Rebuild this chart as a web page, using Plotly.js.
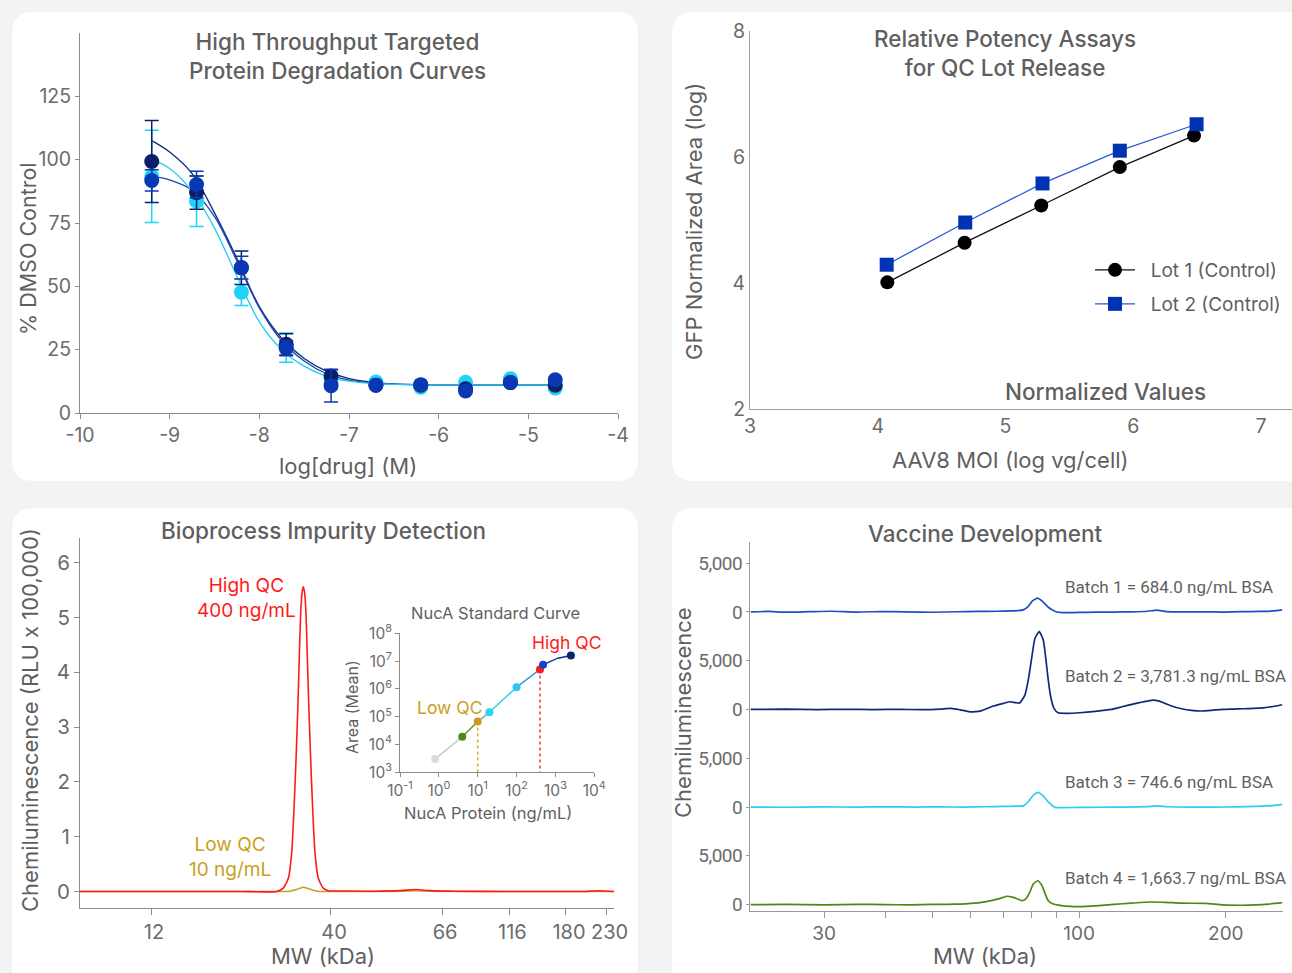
<!DOCTYPE html>
<html><head><meta charset="utf-8">
<script src="https://cdn.plot.ly/plotly-3.0.1.min.js"></script>
<style>
html,body{margin:0;padding:0;background:#f2f4f4;overflow:hidden}
#chart{width:1292px;height:973px}
.y5tick text,.y6tick text,.y7tick text,.y8tick text{letter-spacing:-0.5px}
</style>
</head><body><div id="chart"></div>
<script>
// ================= DATA =================
// Panel 1 - High Throughput Targeted Protein Degradation Curves
const doseLog = [-9.2,-8.7,-8.2,-7.7,-7.2,-6.7,-6.2,-5.7,-5.2,-4.7];
const navyPct = [99.3,87,57.3,27.1,14.6,11,11,9.6,12,11];
const navyErr = [16.2,6.6,6.6,4.2,2.5,0,0,0,0,0];
const bluePct = [91.8,90.2,57.4,25.6,10.8,11,11.2,8.7,12,13.1];
const blueErr = [4.2,5.2,4.5,3,6.5,0,0,0,0,0];
const cyanPct = [93.4,83.6,47.7,25.8,13.2,12.2,10.2,12.1,13.5,9.9];
const cyanErr = [18.2,10,5.3,5.8,0,0,0,0,0,0];
const fitLog  = [-9.2,-9.0,-8.75,-8.5,-8.25,-8.0,-7.75,-7.5,-7.25,-7.0,-6.75,-6.5,-6.0,-5.5,-5.0,-4.7];
const navyFit = [107.5,103,94.5,79,61,42,29.5,21.5,16.5,13.6,12.2,11.5,11.1,11,11,11];
const blueFit = [93.5,92,88,77.5,60,41.5,28.5,20.5,15.5,13,11.9,11.4,11.1,11,11,11];
const cyanFit = [100,96.5,87.5,73,54,36,25,18.5,14.5,12.6,11.7,11.3,11.1,11,11,11];
const doseTicks = [-10,-9,-8,-7,-6,-5,-4];
const doseTickText = ['-10','-9','-8','-7','-6','-5','-4'];
const pctTicks = [0,25,50,75,100,125];

// Panel 2 - Relative Potency Assays
const moiLot1 = [4.075,4.68,5.28,5.895,6.476];
const gfpLot1 = [4.01,4.64,5.23,5.84,6.34];
const moiLot2 = [4.07,4.685,5.29,5.895,6.496];
const gfpLot2 = [4.29,4.96,5.58,6.10,6.52];

// Panel 3 - Bioprocess Impurity Detection (x = migration position, labelled by MW)
const mwTickPos  = [13.3,47.0,67.8,80.4,91.0,98.6];
const mwTickText = ['12','40','66','116','180','230'];
const highPos = [0,10,20,30,36.8,38.07,39.01,39.64,40.07,40.45,40.82,41.07,41.33,41.57,41.82,42.08,42.32,42.57,42.83,43.2,43.58,44.01,44.63,45.56,46.5,50,55,60,62.9,65.5,70,80,90,94.5,96.8,99,100];
const highVal = [0,0,0,0,0,0.06,0.24,0.70,1.49,2.40,3.44,4.29,5.08,5.44,5.56,5.44,5.08,4.29,3.44,2.40,1.49,0.70,0.24,0.06,0.015,0.01,0.005,0.015,0.035,0.015,0.005,0,0,0,0.012,0.005,0];
const lowPos = [0,20,38.0,39.5,40.5,41.2,41.82,42.4,43.1,44.0,45.0,50,60,62.9,66,80,100];
const lowVal = [0,0,0,0.01,0.035,0.06,0.075,0.065,0.04,0.012,0,0,0.005,0.015,0.004,0,0];

// Inset - NucA Standard Curve
const nucaConc   = [0.8,4,10,20,100,400,480,2500];
const nucaArea   = [3000,19000,67000,144000,1150000,5000000,7400000,16000000];
const nucaColors = ['#dadada','#4e8a1a','#c99a1e','#2fd2f4','#29c9f3','#ff1a1a','#1444c4','#0b2570'];
const curveConc  = [0.8,4,10,20,100,400,480,1080,2500];
const curveArea  = [3000,19000,67000,144000,1150000,5000000,7400000,12300000,16000000];
const curveColors= ['#bccbae','#5f952c','#72b49c','#3ccbf0','#2c9de8','#2262d2','#1a45b0','#13307e'];
const decadeX = [0.1,1,10,100,1000,10000];
const decadeXText = ['10<sup>-1</sup>','10<sup>0</sup>','10<sup>1</sup>','10<sup>2</sup>','10<sup>3</sup>','10<sup>4</sup>'];
const decadeY = [1e3,1e4,1e5,1e6,1e7,1e8];
const decadeYText = ['10<sup>3</sup>','10<sup>4</sup>','10<sup>5</sup>','10<sup>6</sup>','10<sup>7</sup>','10<sup>8</sup>'];

// Panel 4 - Vaccine Development
const b1Mw  = [21.2,23,25,28,31,35,39,44,50,56,62,68,72,75,76.8,78.65,80.3,82.2,84.2,86.45,89.2,91.3,95,100,108,118,128,138,144.4,151,165,180,198,215,235,250,261];
const b1Sig = [0,40,-30,20,60,-20,30,0,-40,10,40,60,90,120,200,560,1150,1400,1050,470,60,-60,-80,-60,-30,-20,0,60,180,20,-10,0,-20,20,40,90,200];
const b2Mw  = [21.2,25,29,33,38,43,48,52,54.6,57,59.7,62.6,66.7,69.9,72.1,74,75.5,77.4,78.65,79.93,81.19,82.85,84.43,85.51,86.45,87.45,88.81,90.6,94.3,100.4,108,116.5,122,128.3,135,141.5,146,150,156,162.2,170,178.6,188,197,207,217,228,239,250,261];
const b2Sig = [0,30,-20,20,-10,10,-20,40,110,-40,-240,-170,350,620,790,700,650,1470,3010,5240,7290,7970,7120,5070,3010,1300,110,-340,-400,-340,-200,0,250,520,760,960,850,620,300,70,-100,-160,-80,10,40,70,100,170,300,480];
const b3Mw  = [21.2,25,30,35,40,46,52,58,64,70,74,76.82,78.65,80.54,82.45,84.43,86.45,89.24,92,100,110,125,138,144.4,152,170,190,210,230,250,261];
const b3Sig = [0,-20,20,-10,30,0,20,-10,30,60,90,120,540,1230,1500,1130,540,-30,-60,-40,-20,0,50,110,30,0,-10,20,60,150,280];
const b4Mw  = [21.2,25,30,35,40,45,50,54,57,60,62.6,66.7,69.9,71,73.3,75,76.2,77.2,78.07,79.29,80.54,82.23,83.79,85.12,86.45,88.52,91.33,96,100,108,118,128,140,150,162,181.6,197,215,230,245,261];
const b4Sig = [0,20,-20,30,0,-20,20,30,60,120,200,470,750,860,740,560,420,480,700,1320,2110,2450,2010,1160,400,60,-70,-180,-200,-120,30,150,270,240,150,130,-20,-60,-30,60,200];
const vacTicks = [30,40,50,60,70,80,90,100,200];
const vacTickText = ['30','','','','','','','100','200'];
const batchLabels = ['Batch 1 = 684.0 ng/mL BSA','Batch 2 = 3,781.3 ng/mL BSA','Batch 3 = 746.6 ng/mL BSA','Batch 4 = 1,663.7 ng/mL BSA'];

// ================= HELPERS =================
const W = 1292, H = 973;
const px = v => v / W;
const py = v => 1 - v / H;
const TXT = '#5f5f5f', TICK = '#6b6b6b', LINE = '#8c8c8c';
const FONT = 'Inter, Roboto, "Open Sans", sans-serif';
const NB = '\u00a0\u00a0';

function rr(l, t, r, b, rad) {
  const X = v => px(v), Y = v => py(v);
  return `M${X(l+rad)},${Y(t)} L${X(r-rad)},${Y(t)} Q${X(r)},${Y(t)} ${X(r)},${Y(t+rad)} L${X(r)},${Y(b-rad)} Q${X(r)},${Y(b)} ${X(r-rad)},${Y(b)} L${X(l+rad)},${Y(b)} Q${X(l)},${Y(b)} ${X(l)},${Y(b-rad)} L${X(l)},${Y(t+rad)} Q${X(l)},${Y(t)} ${X(l+rad)},${Y(t)} Z`;
}
function ann(text, x, y, o) {
  return Object.assign({text, x: px(x), y: py(y), xref:'paper', yref:'paper', showarrow:false,
    xanchor:'center', yanchor:'middle', font:{size:22, color:TXT, family:FONT}}, o || {});
}
function baseAxis(o) {
  return Object.assign({showline:true, linecolor:LINE, linewidth:1, showgrid:false, zeroline:false,
    ticks:'outside', ticklen:5, tickcolor:LINE, tickangle:0, tickfont:{size:19.5, color:TICK, family:FONT}, fixedrange:true}, o);
}
const titleFont = {size:22.5, color:TXT, family:FONT, weight:500};

const traces = [];
// ---- Panel 1 curves
[[navyFit,'#0d2a7e'],[blueFit,'#1c43b8'],[cyanFit,'#1fcdf4']].forEach(([y,c]) => {
  traces.push({x: fitLog, y, xaxis:'x', yaxis:'y', mode:'lines', line:{color:c, width:1.3, shape:'spline'}, showlegend:false, hoverinfo:'skip'});
});
[[cyanPct,cyanErr,'#1fd3f6'],[navyPct,navyErr,'#0a1f66'],[bluePct,blueErr,'#0a38b4']].forEach(([y,e,c]) => {
  traces.push({x: doseLog, y, xaxis:'x', yaxis:'y', mode:'markers', marker:{color:c, size:15},
    error_y:{type:'data', array:e, visible:true, color:c, thickness:1.5, width:7}, showlegend:false, hoverinfo:'skip'});
});
// ---- Panel 2
traces.push({x: moiLot1, y: gfpLot1, xaxis:'x2', yaxis:'y2', mode:'lines+markers', name:NB+'Lot 1 (Control)',
  line:{color:'#111', width:1.3}, marker:{color:'#000', size:14, symbol:'circle'}, legend:'legend', hoverinfo:'skip'});
traces.push({x: moiLot2, y: gfpLot2, xaxis:'x2', yaxis:'y2', mode:'lines+markers', name:NB+'Lot 2 (Control)',
  line:{color:'#2a5ad6', width:1.3}, marker:{color:'#0033b3', size:14, symbol:'square'}, legend:'legend2', hoverinfo:'skip'});
// ---- Panel 3
traces.push({x: lowPos, y: lowVal, xaxis:'x3', yaxis:'y3', mode:'lines', line:{color:'#c9a01e', width:1.5, shape:'spline', smoothing:0.6}, showlegend:false, hoverinfo:'skip'});
traces.push({x: highPos, y: highVal, xaxis:'x3', yaxis:'y3', mode:'lines', line:{color:'#ff1a1a', width:1.6, shape:'spline', smoothing:0.6}, showlegend:false, hoverinfo:'skip'});
// ---- Inset
for (let i = 0; i < curveConc.length - 1; i++) {
  traces.push({x: [curveConc[i], curveConc[i+1]], y: [curveArea[i], curveArea[i+1]], xaxis:'x4', yaxis:'y4', mode:'lines',
    line:{color: curveColors[i], width:1.5}, showlegend:false, hoverinfo:'skip'});
}
traces.push({x: [nucaConc[2], nucaConc[2]], y: [nucaArea[2], decadeY[0]], xaxis:'x4', yaxis:'y4', mode:'lines',
  line:{color:'#d9a52a', width:1.5, dash:'dot'}, showlegend:false, hoverinfo:'skip'});
traces.push({x: [nucaConc[5], nucaConc[5]], y: [nucaArea[5], decadeY[0]], xaxis:'x4', yaxis:'y4', mode:'lines',
  line:{color:'#ff3030', width:1.5, dash:'dot'}, showlegend:false, hoverinfo:'skip'});
traces.push({x: nucaConc, y: nucaArea, xaxis:'x4', yaxis:'y4', mode:'markers', marker:{color:nucaColors, size:8}, showlegend:false, hoverinfo:'skip'});
// ---- Panel 4
[[b1Mw,b1Sig,'#1f4fc2','y5'],[b2Mw,b2Sig,'#0f2a7c','y6'],[b3Mw,b3Sig,'#2ccdf4','y7'],[b4Mw,b4Sig,'#4a8a14','y8']].forEach(([x,y,c,ya]) => {
  traces.push({x, y, xaxis:'x5', yaxis:ya, mode:'lines', line:{color:c, width:1.7, shape:'spline', smoothing:0.5}, showlegend:false, hoverinfo:'skip'});
});

// ================= LAYOUT =================
const vacDom = [[617.7,541.7],[715.3,617.7],[812.9,715.3],[910.5,812.9]];
const vacTop = [7190,9400,9400,9400];
const legendBase = {xanchor:'left', yanchor:'middle', font:{size:19,color:TXT,family:FONT}, bgcolor:'rgba(0,0,0,0)', itemwidth:40, borderwidth:0};
const layout = {
  width: W, height: H, margin:{l:0,r:0,t:0,b:0, autoexpand:false},
  paper_bgcolor:'#f2f4f4', plot_bgcolor:'rgba(0,0,0,0)',
  font:{family:FONT, color:TICK},
  shapes: [
    {type:'path', xref:'paper', yref:'paper', path: rr(12,12,638,481,22), fillcolor:'#ffffff', line:{width:0}, layer:'below'},
    {type:'path', xref:'paper', yref:'paper', path: rr(672,12,1330,481,22), fillcolor:'#ffffff', line:{width:0}, layer:'below'},
    {type:'path', xref:'paper', yref:'paper', path: rr(12,508,638,1010,22), fillcolor:'#ffffff', line:{width:0}, layer:'below'},
    {type:'path', xref:'paper', yref:'paper', path: rr(672,508,1330,1010,22), fillcolor:'#ffffff', line:{width:0}, layer:'below'}
  ],
  xaxis: baseAxis({domain:[px(80), px(618)], range:[-10,-4], tickmode:'array', tickvals:doseTicks, ticktext:doseTickText, anchor:'y'}),
  yaxis: baseAxis({domain:[py(413), py(33)], range:[0,150], tickmode:'array', tickvals:pctTicks, anchor:'x', ticklen:4}),
  xaxis2: baseAxis({domain:[px(750), 1], range:[3,7.243], dtick:1, ticks:'', anchor:'y2', linecolor:'#a0a0a0'}),
  yaxis2: baseAxis({domain:[py(409), py(31)], range:[2,8], dtick:2, ticks:'', anchor:'x2', linecolor:'#a0a0a0'}),
  xaxis3: baseAxis({domain:[px(80), px(614)], range:[0,100], tickmode:'array', tickvals:mwTickPos, ticktext:mwTickText, anchor:'y3', ticklen:6, ticklabelshift:3, tickfont:{size:20,color:TICK,family:FONT}}),
  yaxis3: baseAxis({domain:[py(907.7), py(537.7)], range:[-0.296,6.456], dtick:1, anchor:'x3', tickfont:{size:20.5,color:TICK,family:FONT}}),
  xaxis4: baseAxis({type:'log', domain:[px(400), px(594.3)], range:[-1,4], tickmode:'array', tickvals:decadeX, ticktext:decadeXText, anchor:'y4', ticklen:4, tickfont:{size:15.5,color:TICK,family:FONT}}),
  yaxis4: baseAxis({type:'log', domain:[py(772.3), py(633.3)], range:[3,8], tickmode:'array', tickvals:decadeY, ticktext:decadeYText, anchor:'x4', ticklen:4, tickfont:{size:15.5,color:TICK,family:FONT}}),
  xaxis5: baseAxis({type:'log', domain:[px(750), px(1283)], range:[Math.log10(21.13), Math.log10(262)], tickmode:'array', tickvals:vacTicks, ticktext:vacTickText, anchor:'y8', ticklen:6, linecolor:'#999', tickcolor:'#999', tickfont:{size:19,color:TICK,family:FONT}}),
  legend:  Object.assign({x:px(1090), y:py(270)}, legendBase),
  legend2: Object.assign({x:px(1090), y:py(304)}, legendBase),
  annotations: [
    ann('High Throughput Targeted<br>Protein Degradation Curves', 337, 56, {font:titleFont}),
    ann('log[drug] (M)', 348, 466),
    ann('% DMSO Control', 28, 249, {textangle:-90, font:{size:21.5,color:TXT,family:FONT}}),
    ann('Relative Potency Assays<br>for QC Lot Release', 1005, 53, {font:titleFont}),
    ann('Normalized Values', 1105, 392, {font:titleFont}),
    ann('GFP Normalized Area (log)', 694, 222, {textangle:-90}),
    ann('AAV8 MOI (log vg/cell)', 1010, 460),
    ann('Bioprocess Impurity Detection', 323, 530, {font:titleFont}),
    ann('High QC<br>400 ng/mL', 247, 598, {font:{size:19,color:'#ff1a1a',family:FONT}}),
    ann('Low QC<br>10 ng/mL', 230, 857, {font:{size:19,color:'#c9a01e',family:FONT}}),
    ann('Chemiluminescence (RLU x 100,000)', 30, 720, {textangle:-90}),
    ann('MW (kDa)', 323, 956),
    ann('NucA Standard Curve', 495, 613, {font:{size:16.5,color:TXT,family:FONT}}),
    ann('Area (Mean)', 352, 707, {textangle:-90, font:{size:16,color:TXT,family:FONT}}),
    ann('NucA Protein (ng/mL)', 488, 813, {font:{size:16.5,color:TXT,family:FONT}}),
    ann('Low QC', 449, 707, {font:{size:17.5,color:'#c9a01e',family:FONT}}),
    ann('High QC', 566, 642, {font:{size:17.5,color:'#ff1a1a',family:FONT}}),
    ann('Vaccine Development', 985, 533, {font:titleFont}),
    ann('Chemiluminescence', 683, 713, {textangle:-90}),
    ann('MW (kDa)', 985, 956)
  ]
};
const batchY = [587,676,782,878];
batchLabels.forEach((t,i) => layout.annotations.push(ann(t, 1063, batchY[i], {xanchor:'left', font:{size:17,color:TXT,family:'Roboto, sans-serif'}})));
vacDom.forEach((d,i) => {
  layout['yaxis'+(5+i)] = baseAxis({domain:[py(d[0]), py(d[1])], range:[-600, vacTop[i]], tickmode:'array', tickvals:[0,5000], ticktext:['0','5,000'],
    anchor:'x5', ticklen:3, linecolor:'#999', tickcolor:'#999', tickfont:{size:19,color:TICK,family:'Roboto, sans-serif'}});
});

Plotly.newPlot('chart', traces, layout, {displayModeBar:false, staticPlot:true});
</script></body></html>
